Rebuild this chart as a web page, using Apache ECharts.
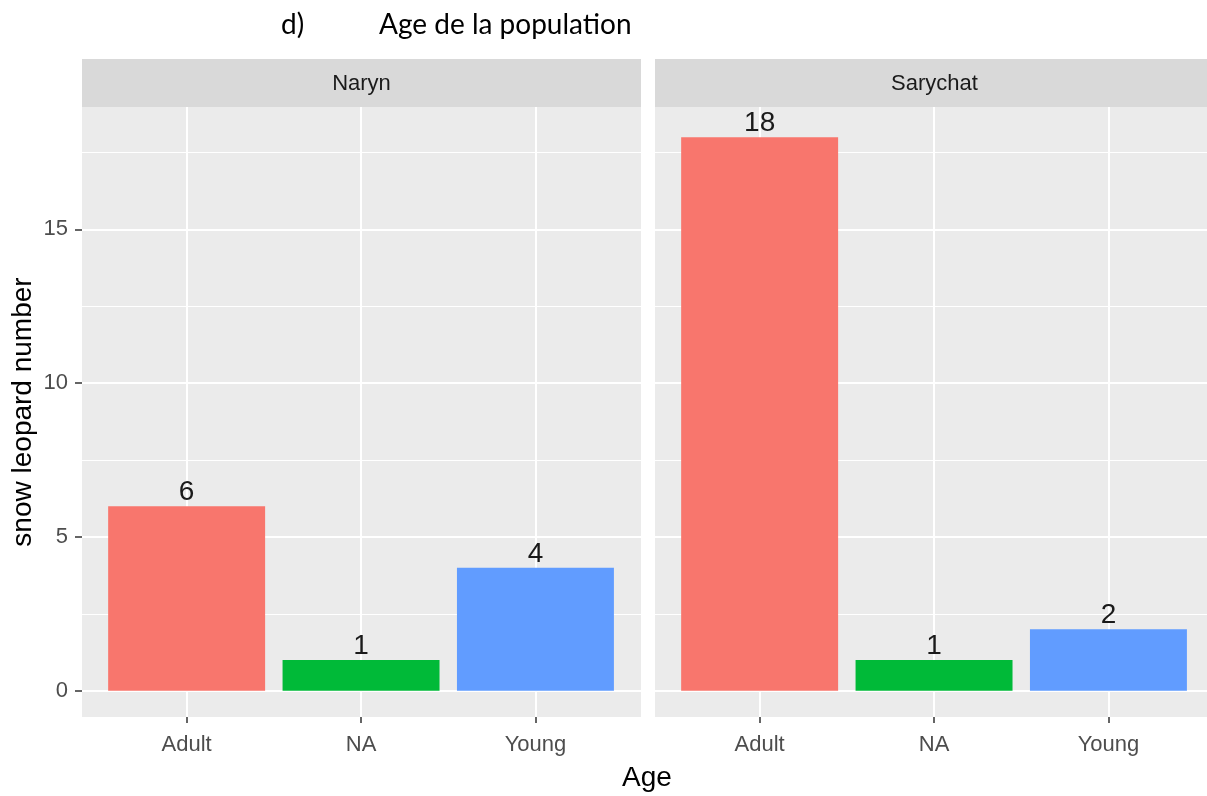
<!DOCTYPE html>
<html>
<head>
<meta charset="utf-8">
<script src="https://cdn.jsdelivr.net/npm/echarts@6/dist/echarts.min.js"></script>
<style>
html,body{margin:0;padding:0;background:#fff;}
#chart{width:1207px;height:796px;}
</style>
</head>
<body>
<div id="chart"></div>
<script>
// ---- data ----
const categories = ['Adult', 'NA', 'Young'];
const facets = ['Naryn', 'Sarychat'];
const narynCounts = [6, 1, 4];
const sarychatCounts = [18, 1, 2];
const yMajorTicks = [0, 5, 10, 15];
const yMinorTicks = [2.5, 7.5, 12.5, 17.5];
const titleLabel = 'd)';
const titleText = 'Age de la population';
const xTitle = 'Age';
const yTitle = 'snow leopard number';

// ---- style ----
const barColors = ['#F8766D', '#00BA38', '#619CFF'];
const panelBg = '#EBEBEB';
const stripBg = '#D9D9D9';
const axisFont = 'Liberation Sans';
const bandPx = 174.4;
// second panel is cut by the picture's right edge
const panels = [
  { left: 82, width: 559 },
  { left: 655, width: 552 }
];
const panelTop = 107, panelBottom = 717;
const yMin = -0.85, yMax = 18.98;

const countsByFacet = [narynCounts, sarychatCounts];
const xPositions = categories.map((c, i) => i + 1);

const chart = echarts.init(document.getElementById('chart'), null, { renderer: 'canvas' });

const grids = [], xAxes = [], yAxes = [], series = [], graphics = [];

panels.forEach((p, i) => {
  grids.push({
    left: p.left, width: p.width, top: panelTop, height: panelBottom - panelTop,
    show: true, backgroundColor: panelBg, borderWidth: 0, containLabel: false
  });
  xAxes.push({
    type: 'value', gridIndex: i, min: 0.4, max: 0.4 + p.width / bandPx,
    axisLine: { show: false, onZero: false },
    axisTick: { show: true, customValues: xPositions, length: 6, lineStyle: { color: '#333333', width: 1.5 } },
    axisLabel: {
      show: true, customValues: xPositions, margin: 17,
      formatter: v => categories[Math.round(v) - 1] || '',
      fontFamily: axisFont, fontSize: 22, color: '#4D4D4D'
    },
    splitLine: { show: true, lineStyle: { color: '#FFFFFF', width: 2 } }
  });
  // major y axis
  yAxes.push({
    type: 'value', gridIndex: i, min: yMin, max: yMax,
    axisLine: { show: false, onZero: false },
    axisTick: { show: i === 0, customValues: yMajorTicks, length: 7, lineStyle: { color: '#333333', width: 1.5 } },
    axisLabel: {
      show: i === 0, customValues: yMajorTicks, margin: 14,
      fontFamily: axisFont, fontSize: 22, color: '#4D4D4D'
    },
    splitLine: { show: true, lineStyle: { color: '#FFFFFF', width: 2 } },
    name: i === 0 ? yTitle : '',
    nameLocation: 'middle', nameGap: 45, nameRotate: 90,
    nameTextStyle: { fontFamily: axisFont, fontSize: 28, color: '#000000' }
  });
  // minor y axis (grid lines only)
  yAxes.push({
    type: 'value', gridIndex: i, min: yMin, max: yMax,
    axisLine: { show: false, onZero: false },
    axisTick: { show: false, customValues: yMinorTicks },
    axisLabel: { show: false, customValues: yMinorTicks },
    splitLine: { show: true, lineStyle: { color: '#FFFFFF', width: 1 } }
  });
  series.push({
    type: 'bar', xAxisIndex: i, yAxisIndex: 2 * i, barWidth: '90%',
    data: countsByFacet[i].map((v, j) => ({
      value: [xPositions[j], v],
      itemStyle: { color: barColors[j] }
    })),
    label: {
      show: true, position: 'top', distance: 0,
      formatter: params => String(params.value[1]),
      fontFamily: axisFont, fontSize: 28, color: '#1A1A1A'
    },
    z: 3
  });
  // facet strip
  graphics.push({
    type: 'rect', left: p.left, top: 59, shape: { width: p.width + (i === 1 ? 6 : 0), height: panelTop - 59 },
    style: { fill: stripBg }, z: 1
  });
  graphics.push({
    type: 'text', x: p.left + 279.5, y: 84,
    style: { text: facets[i], fontFamily: axisFont, fontSize: 22, fill: '#1A1A1A', textAlign: 'center', textVerticalAlign: 'middle' },
    z: 2
  });
});

// x title
graphics.push({
  type: 'text', x: 647, y: 778,
  style: { text: xTitle, fontFamily: axisFont, fontSize: 28, fill: '#000000', textAlign: 'center', textVerticalAlign: 'middle' }
});
// main title (two parts)
graphics.push({
  type: 'text', x: 281, y: 25,
  style: { text: titleLabel, fontFamily: 'Lato', fontSize: 28, fill: '#000000', textAlign: 'left', textVerticalAlign: 'middle' }
});
graphics.push({
  type: 'text', x: 379, y: 25,
  style: { text: titleText, fontFamily: 'Lato', fontSize: 28, fill: '#000000', textAlign: 'left', textVerticalAlign: 'middle' }
});

chart.setOption({
  animation: false,
  backgroundColor: '#FFFFFF',
  grid: grids,
  xAxis: xAxes,
  yAxis: yAxes,
  series: series,
  graphic: graphics
});
</script>
</body>
</html>
